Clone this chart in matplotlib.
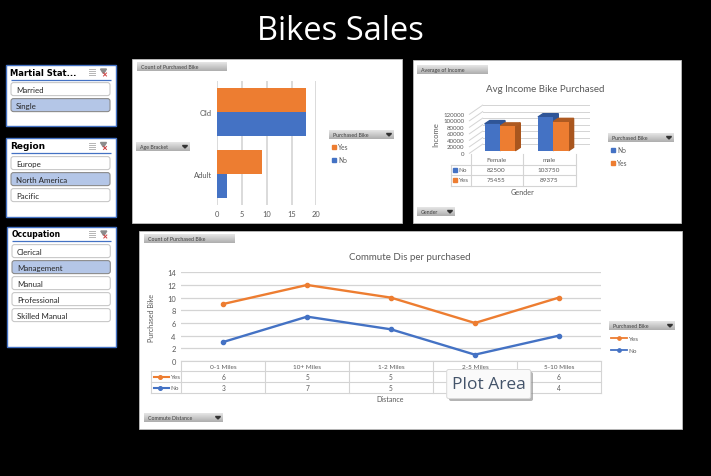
import numpy as np
import matplotlib
matplotlib.use("Agg")
import matplotlib.pyplot as plt
from matplotlib.patches import Rectangle, FancyBboxPatch, Polygon

plt.rcParams['font.family'] = ['Lato', 'DejaVu Sans']

# ---- data ----
title_text = "Bikes Sales"
slicer_titles = ["Martial Stat...", "Region", "Occupation"]
slicer_title_sizes = [6.0, 6.5, 5.5]
slicer_items = [["Married", "Single"],
                ["Europe", "North America", "Pacific"],
                ["Clerical", "Management", "Manual", "Professional", "Skilled Manual"]]
slicer_selected = ["Single", "North America", "Management"]

age_cats = ["Adult", "Old"]
age_yes = [9, 18]
age_no = [2, 18]

genders = ["Female", "male"]
income_no = [82500, 103750]
income_yes = [75455, 89375]

distances = ["0-1 Miles", "10+ Miles", "1-2 Miles", "2-5 Miles", "5-10 Miles"]
commute_yes = [6, 5, 5, 5, 6]
commute_no = [3, 7, 5, 1, 4]
covered_column = "2-5 Miles"   # its table cells sit under the hover tooltip

BLUE = "#4472C4"
ORANGE = "#ED7D31"
BLUE_TOP = "#2F5597"
BLUE_SIDE = "#2F5597"
OR_TOP = "#AE5A21"
OR_SIDE = "#A9561E"
GRID = "#D4D4D4"
TXT = "#595959"
W, H = 711, 477

fig = plt.figure(figsize=(W / 100, H / 100), dpi=100, facecolor="black")


def px_axes(x0, y0, x1, y1, z=2):
    a = fig.add_axes([x0 / W, 1 - y1 / H, (x1 - x0) / W, (y1 - y0) / H], zorder=z)
    a.patch.set_alpha(0)
    return a


bg = fig.add_axes([0, 0, 1, 1], zorder=1)
bg.set_xlim(0, W)
bg.set_ylim(H, 0)
bg.axis("off")

top = fig.add_axes([0, 0, 1, 1], zorder=5)
top.set_xlim(0, W)
top.set_ylim(H, 0)
top.axis("off")
top.patch.set_alpha(0)

grad = np.linspace(0.90, 0.68, 32).reshape(-1, 1)


def button(x0, y0, x1, y1, text, arrow=False):
    bg.imshow(grad, extent=(x0, x1, y1, y0), cmap="gray", vmin=0, vmax=1,
              aspect="auto", zorder=3)
    bg.text(x0 + 4, (y0 + y1) / 2, text, fontsize=3.8, color="#404040",
            va="center", ha="left", zorder=4)
    if arrow:
        c = x1 - 5
        m = (y0 + y1) / 2
        bg.add_patch(Polygon([(c - 2.5, m - 1), (c + 2.5, m - 1), (c, m + 1.5)],
                             color="#333333", zorder=4))


def panel(x0, y0, x1, y1):
    bg.add_patch(Rectangle((x0, y0), x1 - x0, y1 - y0, fc="white", ec="#BFBFBF",
                           lw=0.6, zorder=2))


bg.text(340, 32, title_text, color="white", fontsize=23.5, ha="center", va="center",
        family="Open Sans")

# ---- slicers ----
slicer_boxes = [(5.5, 65.5, 115.5, 126.5, 73, 80.5, 83.6, 16),
                (5.5, 138.7, 115.5, 218.3, 146.5, 154.3, 157.6, 16),
                (6.5, 227.7, 115.8, 347.7, 235, 242.3, 245.6, 16)]
for box, ttl, tsz, items in zip(slicer_boxes, slicer_titles, slicer_title_sizes, slicer_items):
    x0, y0, x1, y1, ty, ly, iy, step = box
    bg.add_patch(Rectangle((x0, y0), x1 - x0, y1 - y0, fc="white", ec=BLUE, lw=1, zorder=2))
    bg.plot([x0 + 5, x1 - 5], [ly, ly], color=BLUE, lw=0.9, zorder=3, solid_capstyle="butt")
    bg.text(x0 + 5, ty, ttl, fontsize=tsz, fontweight="bold", family="DejaVu Sans",
            color="black", va="center", ha="left", zorder=4)
    # slicer header icons
    ix = x1 - 29
    for k in range(4):
        bg.plot([ix + 2, ix + 8], [ty - 3 + 2 * k] * 2, color="#B5B5B5", lw=0.7, zorder=4)
    fx = x1 - 12
    bg.add_patch(Polygon([(fx - 3, ty - 3), (fx + 3, ty - 3), (fx + 0.5, ty + 1), (fx - 0.5, ty + 1)],
                         color="#8C8C8C", zorder=4))
    bg.plot([fx, fx + 3], [ty + 1, ty + 4], color="#D04040", lw=0.7, zorder=5)
    bg.plot([fx, fx + 3], [ty + 4, ty + 1], color="#D04040", lw=0.7, zorder=5)
    for i, it in enumerate(items):
        sel = it in slicer_selected
        yy = iy + i * step
        bg.add_patch(FancyBboxPatch((x0 + 5.5, yy), x1 - x0 - 11, 13,
                                    boxstyle="round,pad=0,rounding_size=2.5",
                                    fc="#B4C6E7" if sel else "white",
                                    ec="#8C8C8C" if sel else "#C8C8C8", lw=0.8, zorder=3))
        bg.text(x0 + 10.5, yy + 6.5, it, fontsize=5.7, color="#262626", va="center", ha="left", zorder=4)

# ---- panel 1: age bracket bars ----
panel(131.5, 59.5, 401.5, 223.5)
button(137, 63, 227, 72, "Count of Purchased Bike")
button(136, 143, 190, 152, "Age Bracket", arrow=True)
button(329, 131, 394, 140, "Purchased Bike", arrow=True)

ax1 = px_axes(217.3, 82.3, 316.3, 205.7)
ypos = np.arange(len(age_cats))
ax1.barh(ypos + 0.195, age_yes, height=0.39, color=ORANGE, zorder=3)
ax1.barh(ypos - 0.195, age_no, height=0.39, color=BLUE, zorder=3)
ax1.set_xlim(0, 20)
ax1.set_ylim(-0.5, 1.5)
ax1.set_xticks([0, 5, 10, 15, 20])
ax1.set_yticks(ypos)
ax1.set_yticklabels(age_cats)
ax1.set_axisbelow(True)
ax1.xaxis.grid(True, color=GRID, lw=1.2)
ax1.tick_params(length=0, labelsize=5.4, labelcolor=TXT, pad=4)
for s in ax1.spines.values():
    s.set_visible(False)
for xx, ll, cc in [(332, "Yes", ORANGE), (332, "No", BLUE)]:
    yy = 147.5 if ll == "Yes" else 160.5
    bg.add_patch(Rectangle((xx, yy - 2), 4, 4, color=cc, zorder=3))
    bg.text(xx + 6, yy, ll, fontsize=4.8, color=TXT, va="center", zorder=3)

# ---- panel 2: 3-D look columns ----
panel(412.5, 60.5, 680.5, 223.5)
button(417, 66, 488, 75, "Average of Income")
button(417, 208, 455, 217, "Gender", arrow=True)
button(608, 134, 674, 143, "Purchased Bike", arrow=True)
bg.text(545.5, 89, "Avg Income Bike Purchased", fontsize=7.0, color=TXT, ha="center", va="center")

PX_PER_UNIT = 0.325 / 1000
BASE_PX = 151.7
ax2 = px_axes(465, 100, 600, 165)
ax2.set_xlim(465, 600)
ax2.set_ylim((BASE_PX - 165) / PX_PER_UNIT, (BASE_PX - 100) / PX_PER_UNIT)
ax2.axis("off")
dx, dv = 5.0, 3.3 / PX_PER_UNIT
wall = 2 * dv
front = 2.6 / PX_PER_UNIT
wall_left, wall_right = 482.7, 589
ticks3d = [0, 20000, 40000, 60000, 80000, 100000, 120000]
for v in ticks3d:
    yb = v + wall
    ax2.plot([wall_left, wall_right], [yb, yb], color=GRID, lw=0.7, zorder=1)
    ax2.plot([wall_left - 13.3, wall_left], [v - front, yb], color=GRID, lw=0.7, zorder=1)
    ax2.text(464.5, v - front, f"{v}", fontsize=4.4, color=TXT, ha="right", va="center", clip_on=False)
bw = 15.3
starts = [484.7, 538.0]
for s, n, y_ in zip(starts, income_no, income_yes):
    for xs, val, cf, ct, cs in [(s, n, BLUE, BLUE_TOP, BLUE_SIDE),
                                (s + bw, y_, ORANGE, OR_TOP, OR_SIDE)]:
        ax2.add_patch(Polygon([(xs + bw, 0), (xs + bw + dx, dv), (xs + bw + dx, val + dv), (xs + bw, val)],
                              color=cs, zorder=3))
        ax2.add_patch(Polygon([(xs, val), (xs + dx, val + dv), (xs + bw + dx, val + dv), (xs + bw, val)],
                              color=ct, zorder=3))
        ax2.bar(xs, val, width=bw, align="edge", color=cf, zorder=4)
bg.text(436, 135, "Income", fontsize=5.5, color=TXT, rotation=90, ha="center", va="center")

# data table under columns
tx = [450.5, 470.5, 522.5, 575.5]
ty_ = [155, 165.5, 176, 186.5]
for x in tx[1:]:
    bg.plot([x, x], [ty_[0], ty_[-1]], color=GRID, lw=0.8, zorder=3)
bg.plot([tx[0], tx[0]], [ty_[1], ty_[-1]], color=GRID, lw=0.8, zorder=3)
for i, y in enumerate(ty_[1:]):
    bg.plot([tx[0], tx[-1]], [y, y], color=GRID, lw=0.8, zorder=3)
for i, g in enumerate(genders):
    xc = (tx[i + 1] + tx[i + 2]) / 2
    bg.text(xc, 161, g, fontsize=4.6, color=TXT, ha="center", va="center", zorder=4)
    bg.text(xc, 170.5, f"{income_no[i]}", fontsize=4.6, color=TXT, ha="center", va="center", zorder=4)
    bg.text(xc, 181, f"{income_yes[i]}", fontsize=4.6, color=TXT, ha="center", va="center", zorder=4)
for yy, ll, cc in [(170.5, "No", BLUE), (181, "Yes", ORANGE)]:
    bg.add_patch(Rectangle((453, yy - 2), 4, 4, color=cc, zorder=4))
    bg.text(458.5, yy, ll, fontsize=4.6, color=TXT, va="center", zorder=4)
bg.text(522.5, 192.5, "Gender", fontsize=5.2, color=TXT, ha="center", va="center")
for yy, ll, cc in [(151, "No", BLUE), (164, "Yes", ORANGE)]:
    bg.add_patch(Rectangle((611, yy - 2), 4, 4, color=cc, zorder=3))
    bg.text(617, yy, ll, fontsize=4.8, color=TXT, va="center", zorder=3)

# ---- panel 3: commute lines ----
panel(139, 231.5, 681.5, 429.5)
button(144, 235, 235, 244, "Count of Purchased Bike")
button(144, 414, 223, 423, "Commute Distance", arrow=True)
button(609, 322, 675, 331, "Purchased Bike", arrow=True)
bg.text(409.5, 257.5, "Commute Dis per purchased", fontsize=7.0, color=TXT, ha="center", va="center")

ax3 = px_axes(181.3, 273.3, 600.7, 362)
xs3 = np.arange(len(distances))
stacked_yes = np.array(commute_no) + np.array(commute_yes)
ax3.plot(xs3, stacked_yes, color=ORANGE, lw=1.7, marker="o", ms=3, zorder=3)
ax3.plot(xs3, commute_no, color=BLUE, lw=1.7, marker="o", ms=3, zorder=3)
ax3.set_xlim(-0.5, 4.5)
ax3.set_ylim(0, 14)
ax3.set_yticks(range(0, 15, 2))
ax3.set_xticks([])
ax3.set_axisbelow(True)
ax3.yaxis.grid(True, color=GRID, lw=0.9)
ax3.tick_params(length=0, labelsize=5.4, labelcolor=TXT, pad=4)
for s in ax3.spines.values():
    s.set_visible(False)
bg.text(152, 317.5, "Purchased Bike", fontsize=5.1, color=TXT, rotation=90, ha="center", va="center")

cw = (600.7 - 181.3) / len(distances)
rows = [362.3, 372.3, 383.3, 394.3]
for i in range(len(distances) + 1):
    x = 181.3 + i * cw
    bg.plot([x, x], [rows[0], rows[-1]], color=GRID, lw=0.8, zorder=3)
bg.plot([151.3, 151.3], [rows[1], rows[-1]], color=GRID, lw=0.8, zorder=3)
bg.plot([181.3, 600.7], [rows[0], rows[0]], color=GRID, lw=0.8, zorder=3)
for y in rows[1:]:
    bg.plot([151.3, 600.7], [y, y], color=GRID, lw=0.8, zorder=3)
for i, d in enumerate(distances):
    xc = 181.3 + (i + 0.5) * cw
    bg.text(xc, 367.4, d, fontsize=4.6, color=TXT, ha="center", va="center", zorder=4)
    if d != covered_column:
        bg.text(xc, 377.8, str(commute_yes[i]), fontsize=4.8, color=TXT, ha="center", va="center", zorder=4)
        bg.text(xc, 388.8, str(commute_no[i]), fontsize=4.8, color=TXT, ha="center", va="center", zorder=4)
for yy, ll, cc in [(377.5, "Yes", ORANGE), (388.5, "No", BLUE)]:
    bg.plot([153.5, 169], [yy, yy], color=cc, lw=1.5, zorder=4)
    bg.plot([159.5], [yy], marker="o", ms=2.6, color=cc, zorder=4)
    bg.text(170, yy + 0.5, ll, fontsize=4.6, color=TXT, va="center", zorder=4)
bg.text(390.5, 399.5, "Distance", fontsize=5.1, color=TXT, ha="center", va="center", zorder=4)
for yy, ll, cc in [(339, "Yes", ORANGE), (351, "No", BLUE)]:
    bg.plot([611, 627], [yy, yy], color=cc, lw=1.3, zorder=4)
    bg.plot([619], [yy], marker="o", ms=2.4, color=cc, zorder=4)
    bg.text(628, yy + 0.5, ll, fontsize=4.6, color=TXT, va="center", zorder=4)

# ---- hover tooltip ----
top.add_patch(FancyBboxPatch((449, 373), 84, 29, boxstyle="round,pad=0,rounding_size=2",
                             fc="#8C8C8C", ec="none", alpha=0.65, zorder=5))
top.add_patch(FancyBboxPatch((446.7, 370.5), 84, 29, boxstyle="round,pad=0,rounding_size=2",
                             fc="#FAFAFA", ec="#D9D9D9", lw=0.7, zorder=6))
top.text(488.7, 385.5, "Plot Area", fontsize=12.5, color="#44546A", ha="center", va="center",
         family="Open Sans", zorder=7)

bg.set_xlim(0, W)
bg.set_ylim(H, 0)
fig.savefig("out.png", dpi=100, facecolor="black")
